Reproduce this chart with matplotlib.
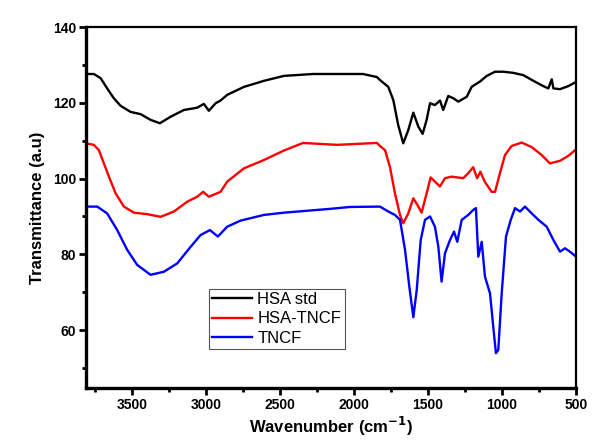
import numpy as np
import matplotlib.pyplot as plt
from matplotlib.ticker import MultipleLocator

plt.rcParams['font.family'] = ['Liberation Sans', 'DejaVu Sans']

# FTIR spectra, (wavenumber, transmittance)
hsa_std_wn = [3811, 3757, 3711, 3667, 3622, 3576, 3509, 3441, 3374, 3311, 3239,
              3149, 3059, 3014, 2980, 2934, 2901, 2856, 2743, 2608, 2473, 2277,
              1939, 1845, 1824, 1768, 1734, 1701, 1667, 1633, 1599, 1565, 1536,
              1509, 1486, 1453, 1419, 1397, 1363, 1329, 1295, 1238, 1205, 1149,
              1103, 1047, 991, 924, 856, 788, 721, 687, 664, 653, 608, 552, 500]
hsa_std_t = [127.6, 127.6, 126.5, 123.8, 121.2, 119.2, 117.6, 117.0, 115.5, 114.6,
             116.3, 118.1, 118.7, 119.7, 117.9, 119.9, 120.6, 122.1, 124.2, 125.8,
             127.1, 127.6, 127.6, 126.8, 126.0, 124.2, 120.7, 114.1, 109.3, 112.8,
             117.4, 113.7, 111.8, 115.5, 119.9, 119.4, 120.6, 118.1, 121.8, 121.2,
             120.3, 121.6, 124.2, 125.6, 127.1, 128.2, 128.2, 127.9, 127.3, 125.8,
             124.4, 123.8, 126.2, 123.8, 123.6, 124.4, 125.5]

hsa_tncf_wn = [3811, 3757, 3723, 3689, 3655, 3610, 3554, 3486, 3397, 3306, 3216,
               3126, 3059, 3018, 2980, 2901, 2856, 2743, 2608, 2473, 2344, 2115,
               1845, 1824, 1790, 1757, 1723, 1689, 1667, 1633, 1599, 1565, 1543,
               1509, 1482, 1453, 1419, 1385, 1340, 1262, 1228, 1195, 1168, 1146,
               1117, 1070, 1047, 1014, 980, 935, 867, 799, 732, 676, 608, 552, 500]
hsa_tncf_t = [109.3, 108.9, 107.5, 104.0, 100.5, 96.1, 92.6, 91.0, 90.6, 89.9,
              91.3, 93.9, 95.2, 96.5, 95.2, 96.5, 99.2, 102.7, 104.9, 107.4,
              109.4, 108.9, 109.4, 108.6, 107.5, 103.1, 96.1, 90.4, 88.2, 90.8,
              94.8, 92.6, 91.0, 96.1, 100.3, 99.2, 97.9, 100.1, 100.5, 100.1,
              101.4, 103.0, 100.1, 101.8, 99.2, 96.5, 96.5, 101.4, 106.2, 108.6,
              109.5, 108.3, 106.2, 104.0, 104.7, 106.0, 107.7]

tncf_wn = [3811, 3734, 3667, 3599, 3532, 3464, 3374, 3284, 3194, 3103, 3036,
           2973, 2919, 2856, 2766, 2608, 2473, 2162, 2027, 1824, 1768, 1723,
           1689, 1655, 1626, 1599, 1576, 1549, 1520, 1486, 1453, 1430, 1408,
           1385, 1351, 1324, 1302, 1272, 1228, 1195, 1176, 1160, 1137, 1115,
           1081, 1059, 1041, 1025, 1002, 973, 941, 912, 878, 845, 799, 754,
           698, 653, 608, 574, 541, 500]
tncf_t = [92.6, 92.6, 90.8, 86.4, 81.2, 77.2, 74.6, 75.4, 77.6, 82.0, 85.1,
          86.4, 84.7, 87.3, 88.9, 90.4, 91.0, 92.0, 92.5, 92.6, 91.3, 90.4,
          89.1, 81.2, 71.5, 63.4, 70.6, 83.8, 89.1, 90.0, 87.3, 82.0, 72.8,
          80.3, 83.8, 86.0, 83.3, 89.1, 90.4, 91.7, 92.2, 79.4, 83.3, 74.1,
          69.7, 60.9, 53.9, 54.8, 69.7, 84.7, 89.1, 92.2, 91.3, 92.6, 90.8,
          89.1, 87.3, 83.8, 80.7, 81.6, 80.7, 79.4]

series = [
    (hsa_std_wn, hsa_std_t, 'black', 'HSA std'),
    (hsa_tncf_wn, hsa_tncf_t, 'red', 'HSA-TNCF'),
    (tncf_wn, tncf_t, 'blue', 'TNCF'),
]

fig = plt.figure(figsize=(5.92, 4.43), dpi=100)
ax = fig.add_axes([0.145, 0.124, 0.828, 0.815])

for wn, t, color, label in series:
    ax.plot(wn, t, color=color, linewidth=1.7, label=label)

ax.set_xlim(3811, 500)
ax.set_ylim(44.7, 140)
ax.xaxis.set_major_locator(MultipleLocator(500))
ax.xaxis.set_minor_locator(MultipleLocator(250))
ax.yaxis.set_major_locator(MultipleLocator(20))
ax.yaxis.set_minor_locator(MultipleLocator(10))

ax.spines['left'].set_linewidth(2.4)
ax.spines['bottom'].set_linewidth(2.4)
ax.spines['top'].set_linewidth(1.6)
ax.spines['right'].set_linewidth(1.6)

ax.tick_params(which='major', direction='out', length=5, width=2.0,
               labelsize=10, pad=2)
ax.tick_params(which='minor', direction='out', length=3, width=2.0)
for lbl in ax.get_xticklabels() + ax.get_yticklabels():
    lbl.set_fontweight('bold')

ax.set_xlabel('Wavenumber (cm$^{\\mathbf{-1}}$)', fontsize=12,
              fontweight='bold', labelpad=2)
ax.set_ylabel('Transmittance (a.u)', fontsize=12, fontweight='bold',
              labelpad=6)

leg = fig.legend(loc='upper left', bbox_to_anchor=(0.353, 0.348),
                 fontsize=12, frameon=True, fancybox=False, framealpha=1,
                 edgecolor='#555555', handlelength=2.4, handletextpad=0.3,
                 labelspacing=0.25, borderpad=0.2, borderaxespad=0)
leg.get_frame().set_linewidth(0.8)

fig.savefig('out.png', dpi=100)
